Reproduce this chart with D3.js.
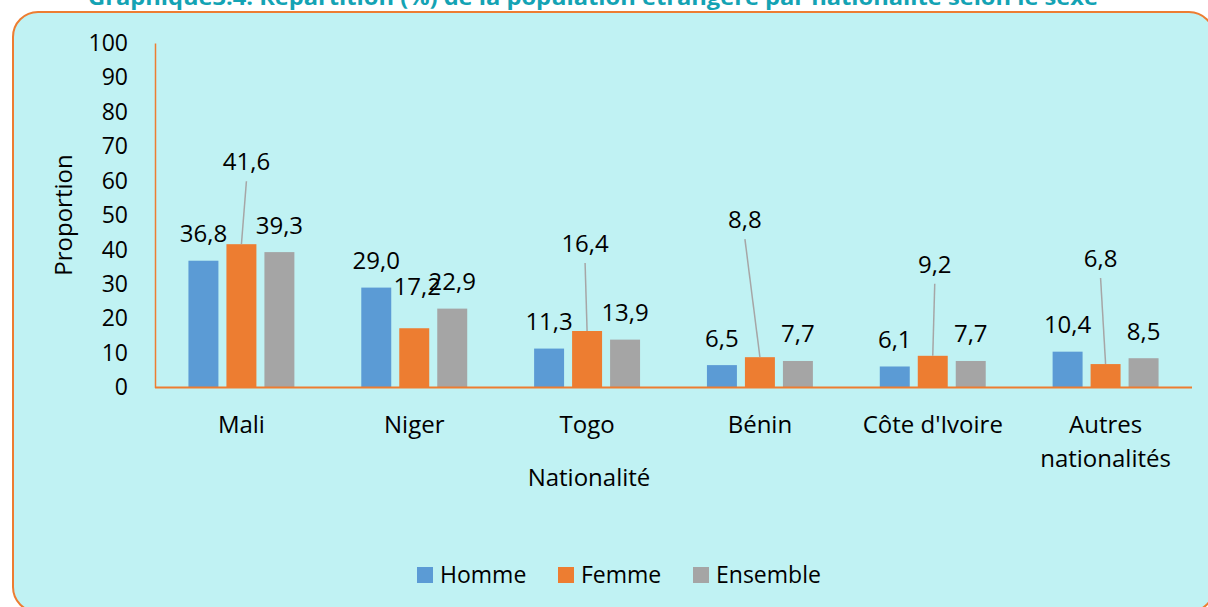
<!DOCTYPE html>
<html lang="fr">
<head>
<meta charset="utf-8">
<script src="https://cdn.jsdelivr.net/npm/d3@7"></script>
<style>
  html, body { margin: 0; padding: 0; background: #ffffff; }
  svg { display: block; }
  text { font-family: "Open Sans", sans-serif; fill: #000; }
</style>
</head>
<body>
<div id="chart"></div>
<script>
// données
const categories = ['Mali', 'Niger', 'Togo', 'Bénin', "Côte d'Ivoire", 'Autres nationalités'];
const series = ['Homme', 'Femme', 'Ensemble'];
const homme = [36.8, 29.0, 11.3, 6.5, 6.1, 10.4];
const femme = [41.6, 17.2, 16.4, 8.8, 9.2, 6.8];
const ensemble = [39.3, 22.9, 13.9, 7.7, 7.7, 8.5];
const yTicks = [0, 10, 20, 30, 40, 50, 60, 70, 80, 90, 100];

const colors = { Homme: '#5b9bd5', Femme: '#ed7d31', Ensemble: '#a5a5a5' };

// étiquettes déplacées (série Femme) : décalage horizontal, hauteur au-dessus de la barre, ligne de rappel
const femmeLabelLayout = {
  'Mali': { dx: 5, lift: 74, leader: true },
  'Niger': { dx: 3, lift: 33, leader: false },
  'Togo': { dx: -2, lift: 79, leader: true },
  'Bénin': { dx: -15, lift: 129, leader: true },
  "Côte d'Ivoire": { dx: 2, lift: 83, leader: true },
  'Autres nationalités': { dx: -5, lift: 97, leader: true }
};

(function() {
  'use strict';

  const width = 1208;
  const height = 607;
  const plot = { left: 155, right: 1192, top: 43, bottom: 387.5 };

  const svg = d3.select('#chart')
    .append('svg')
    .attr('width', width)
    .attr('height', height);

  // cadre arrondi
  svg.append('rect')
    .attr('x', 13)
    .attr('y', 12)
    .attr('width', 1201)
    .attr('height', 600)
    .attr('rx', 25)
    .attr('fill', '#c0f2f3')
    .attr('stroke', '#ed7d31')
    .attr('stroke-width', 2);

  // titre (coupé en haut comme sur l'original)
  svg.append('text')
    .attr('x', 593)
    .attr('y', 5)
    .attr('text-anchor', 'middle')
    .attr('font-size', '22px')
    .attr('font-weight', 'bold')
    .attr('textLength', 1010)
    .attr('lengthAdjust', 'spacingAndGlyphs')
    .style('fill', '#14a3b4')
    .text('Graphique3.4: Répartition (%) de la population étrangère par nationalité selon le sexe');

  // échelles
  const x0 = d3.scaleBand()
    .domain(categories)
    .range([plot.left, plot.right])
    .paddingInner(0.387)
    .paddingOuter(0.1935);

  const x1 = d3.scaleBand()
    .domain(series)
    .range([0, x0.bandwidth()])
    .paddingInner(0.211)
    .paddingOuter(0);

  const y = d3.scaleLinear()
    .domain([0, 100])
    .range([plot.bottom, plot.top]);

  const rows = categories.map((cat, i) => ({
    cat,
    values: [
      { key: 'Homme', value: homme[i] },
      { key: 'Femme', value: femme[i] },
      { key: 'Ensemble', value: ensemble[i] }
    ]
  }));

  // axe Y
  const yAxis = svg.append('g')
    .attr('transform', `translate(${plot.left},0)`)
    .call(d3.axisLeft(y).tickValues(yTicks).tickSize(0).tickPadding(27));
  yAxis.select('.domain')
    .attr('stroke', '#ed7d31')
    .attr('stroke-width', 1.5);
  yAxis.selectAll('text')
    .attr('font-size', '23px')
    .attr('font-family', '"Open Sans", sans-serif')
    .attr('fill', '#000');

  // barres
  const groups = svg.selectAll('.group')
    .data(rows)
    .enter()
    .append('g')
    .attr('class', 'group')
    .attr('transform', d => `translate(${x0(d.cat)},0)`);

  groups.selectAll('rect')
    .data(d => d.values)
    .enter()
    .append('rect')
    .attr('x', d => x1(d.key))
    .attr('y', d => y(d.value))
    .attr('width', x1.bandwidth())
    .attr('height', d => y(0) - y(d.value))
    .attr('fill', d => colors[d.key]);

  // axe X
  svg.append('line')
    .attr('x1', plot.left)
    .attr('x2', plot.right)
    .attr('y1', y(0))
    .attr('y2', y(0))
    .attr('stroke', '#ed7d31')
    .attr('stroke-width', 2);

  // étiquettes de valeurs
  const fmt = v => v.toFixed(1).replace('.', ',');
  rows.forEach(row => {
    row.values.forEach(d => {
      const barX = x0(row.cat) + x1(d.key) + x1.bandwidth() / 2;
      const barTop = y(d.value);
      let lx = barX;
      let ly = barTop - 18.5;
      const layout = d.key === 'Femme' ? femmeLabelLayout[row.cat] : null;
      if (layout) {
        lx = barX + layout.dx;
        ly = barTop - layout.lift;
        if (layout.leader) {
          svg.append('line')
            .attr('x1', lx)
            .attr('y1', ly + 11)
            .attr('x2', barX)
            .attr('y2', barTop)
            .attr('stroke', '#a6a6a6')
            .attr('stroke-width', 1.5);
        }
      }
      svg.append('text')
        .attr('x', lx)
        .attr('y', ly)
        .attr('text-anchor', 'middle')
        .attr('font-size', '24px')
        .text(fmt(d.value));
    });
  });

  // libellés des catégories
  const catLines = {
    'Autres nationalités': ['Autres', 'nationalités']
  };
  categories.forEach(cat => {
    const lines = catLines[cat] || [cat];
    const t = svg.append('text')
      .attr('x', x0(cat) + x0.bandwidth() / 2)
      .attr('y', 433)
      .attr('text-anchor', 'middle')
      .attr('font-size', '24px');
    lines.forEach((ln, i) => {
      t.append('tspan')
        .attr('x', x0(cat) + x0.bandwidth() / 2)
        .attr('dy', i === 0 ? 0 : 33.5)
        .text(ln);
    });
  });

  // titres des axes
  svg.append('text')
    .attr('x', 589)
    .attr('y', 486)
    .attr('text-anchor', 'middle')
    .attr('font-size', '24px')
    .text('Nationalité');

  svg.append('text')
    .attr('transform', 'translate(72,215) rotate(-90)')
    .attr('text-anchor', 'middle')
    .attr('font-size', '24px')
    .text('Proportion');

  // légende
  const legendX = [417, 558, 693];
  const legend = svg.selectAll('.legend')
    .data(series)
    .enter()
    .append('g')
    .attr('class', 'legend')
    .attr('transform', (d, i) => `translate(${legendX[i]},567)`);

  legend.append('rect')
    .attr('width', 16)
    .attr('height', 16)
    .attr('fill', d => colors[d]);

  legend.append('text')
    .attr('x', 23)
    .attr('y', 16)
    .attr('font-size', '23px')
    .text(d => d);
})();
</script>
</body>
</html>
